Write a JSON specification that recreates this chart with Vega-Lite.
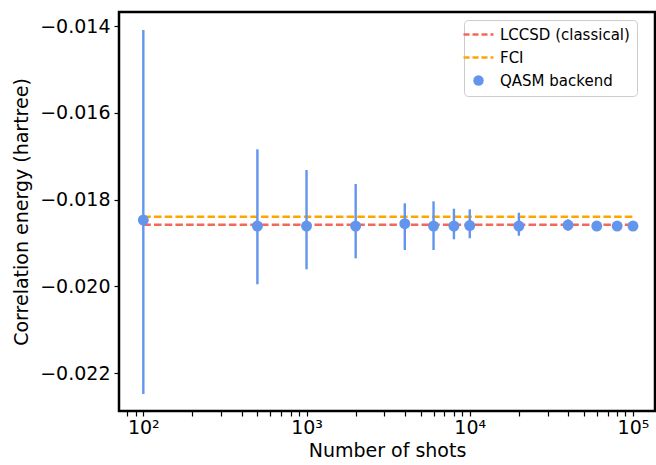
{
  "$schema": "https://vega.github.io/schema/vega-lite/v6.json",
  "autosize": "none",
  "width": 536,
  "height": 399,
  "padding": {"left": 119, "top": 12, "right": 1, "bottom": 54},
  "background": "white",
  "config": {
    "font": "DejaVu Sans",
    "view": {"stroke": "black", "strokeWidth": 2.5},
    "axis": {
      "grid": false,
      "domain": false,
      "tickColor": "black",
      "labelColor": "black",
      "titleColor": "black",
      "labelFont": "DejaVu Sans",
      "titleFont": "DejaVu Sans",
      "labelFontSize": 19,
      "titleFontSize": 19,
      "titleFontWeight": "normal"
    }
  },
  "datasets": {
    "points": [
      {"shots": 100, "energy": -0.018473, "lo": -0.022484, "hi": -0.014092, "series": "QASM backend"},
      {"shots": 500, "energy": -0.018611, "lo": -0.019955, "hi": -0.016843, "series": "QASM backend"},
      {"shots": 1000, "energy": -0.018611, "lo": -0.019609, "hi": -0.017320, "series": "QASM backend"},
      {"shots": 2000, "energy": -0.018611, "lo": -0.019356, "hi": -0.017643, "series": "QASM backend"},
      {"shots": 4000, "energy": -0.018558, "lo": -0.019164, "hi": -0.018088, "series": "QASM backend"},
      {"shots": 6000, "energy": -0.018611, "lo": -0.019164, "hi": -0.018042, "series": "QASM backend"},
      {"shots": 8000, "energy": -0.018611, "lo": -0.018918, "hi": -0.018212, "series": "QASM backend"},
      {"shots": 10000, "energy": -0.018600, "lo": -0.018894, "hi": -0.018226, "series": "QASM backend"},
      {"shots": 20000, "energy": -0.018611, "lo": -0.018835, "hi": -0.018304, "series": "QASM backend"},
      {"shots": 40000, "energy": -0.018588, "lo": -0.018719, "hi": -0.018456, "series": "QASM backend"},
      {"shots": 60000, "energy": -0.018611, "lo": -0.018660, "hi": -0.018560, "series": "QASM backend"},
      {"shots": 80000, "energy": -0.018611, "lo": -0.018640, "hi": -0.018580, "series": "QASM backend"},
      {"shots": 100000, "energy": -0.018611, "lo": -0.018630, "hi": -0.018590, "series": "QASM backend"}
    ],
    "lines": [
      {"series": "LCCSD (classical)", "shots": 100, "energy": -0.018581},
      {"series": "LCCSD (classical)", "shots": 100000, "energy": -0.018581},
      {"series": "FCI", "shots": 100, "energy": -0.018397},
      {"series": "FCI", "shots": 100000, "energy": -0.018397}
    ]
  },
  "encoding": {
    "x": {
      "field": "shots",
      "type": "quantitative",
      "scale": {"type": "log", "domain": [70.96, 136458], "nice": false},
      "axis": {
        "title": "Number of shots",
        "values": [80, 90, 100, 200, 300, 400, 500, 600, 700, 800, 900, 1000, 2000, 3000, 4000, 5000, 6000, 7000, 8000, 9000, 10000, 20000, 30000, 40000, 50000, 60000, 70000, 80000, 90000, 100000],
        "labelExpr": "datum.value == 100 ? '10²' : datum.value == 1000 ? '10³' : datum.value == 10000 ? '10⁴' : datum.value == 100000 ? '10⁵' : ''",
        "labelOverlap": false,
        "labelFlush": false,
        "tickSize": 5,
        "tickWidth": 1.2,
        "labelPadding": 2,
        "titlePadding": 4,
        "encode": {
          "ticks": {
            "update": {
              "y2": {"signal": "(datum.value == 100 || datum.value == 1000 || datum.value == 10000 || datum.value == 100000) ? 5 : 3"},
              "strokeWidth": {"signal": "(datum.value == 100 || datum.value == 1000 || datum.value == 10000 || datum.value == 100000) ? 1.2 : 0.9"}
            }
          }
        }
      }
    }
  },
  "layer": [
    {
      "data": {"name": "lines"},
      "mark": {"type": "line", "strokeWidth": 2.5, "strokeDash": [7.5, 3.2]},
      "encoding": {
        "y": {
          "field": "energy",
          "type": "quantitative",
          "scale": {"domain": [-0.022876, -0.013677], "nice": false, "zero": false},
          "axis": {
            "title": "Correlation energy (hartree)",
            "values": [-0.022, -0.020, -0.018, -0.016, -0.014],
            "format": ".3f",
            "labelExpr": "replace(datum.label, '-', '−')",
            "tickSize": 5,
            "tickWidth": 1.2,
            "labelPadding": 4,
            "titlePadding": 8
          }
        },
        "color": {
          "field": "series",
          "type": "nominal",
          "scale": {"domain": ["LCCSD (classical)", "FCI", "QASM backend"], "range": ["#f4685a", "#ffa500", "#6495ed"]},
          "legend": {
            "title": null,
            "orient": "none",
            "legendX": 345,
            "legendY": 8,
            "fillColor": "white",
            "strokeColor": "#cccccc",
            "cornerRadius": 4,
            "padding": 7,
            "labelFont": "DejaVu Sans",
            "labelFontSize": 15,
            "labelColor": "black",
            "symbolSize": 900,
            "rowPadding": 7,
            "labelOffset": 14,
            "encode": {
              "symbols": {
                "update": {
                  "shape": {"signal": "datum.value === 'QASM backend' ? 'circle' : 'stroke'"},
                  "size": {"signal": "datum.value === 'QASM backend' ? 110 : 900"},
                  "strokeDash": {"signal": "datum.value === 'QASM backend' ? [1, 0] : [6, 3]"},
                  "strokeWidth": {"signal": "datum.value === 'QASM backend' ? 0 : 2.5"},
                  "stroke": {"signal": "datum.value === 'LCCSD (classical)' ? '#f4685a' : datum.value === 'FCI' ? '#ffa500' : '#6495ed'"},
                  "fill": {"signal": "datum.value === 'QASM backend' ? '#6495ed' : 'transparent'"},
                  "opacity": {"value": 1}
                }
              }
            }
          }
        }
      }
    },
    {
      "data": {"name": "points"},
      "mark": {"type": "rule", "strokeWidth": 2.4, "color": "#6495ed"},
      "encoding": {
        "y": {"field": "lo", "type": "quantitative"},
        "y2": {"field": "hi"}
      }
    },
    {
      "data": {"name": "points"},
      "mark": {"type": "point", "shape": "circle", "filled": true, "size": 120, "opacity": 1},
      "encoding": {
        "y": {"field": "energy", "type": "quantitative"},
        "color": {"field": "series", "type": "nominal"}
      }
    }
  ]
}
